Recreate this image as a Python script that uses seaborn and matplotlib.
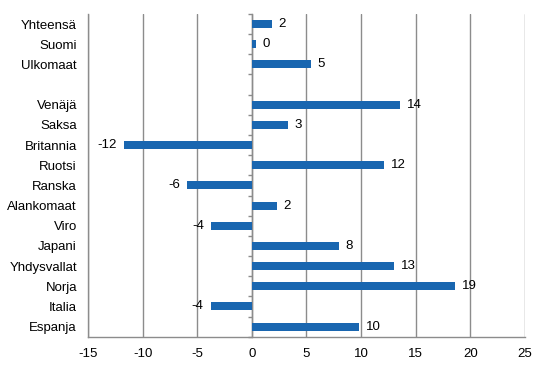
import numpy as np
import pandas as pd
import matplotlib
matplotlib.use('Agg')
import matplotlib.pyplot as plt
import seaborn as sns

# Data (top to bottom); the blank row is a spacer
maat = ['Yhteensä', 'Suomi', 'Ulkomaat', '', 'Venäjä', 'Saksa', 'Britannia',
        'Ruotsi', 'Ranska', 'Alankomaat', 'Viro', 'Japani', 'Yhdysvallat',
        'Norja', 'Italia', 'Espanja']
muutos = [1.8, 0.34, 5.4, np.nan, 13.6, 3.3, -11.75, 12.06, -5.9, 2.26,
          -3.7, 7.95, 12.97, 18.56, -3.78, 9.77]
x_ticks = [-15, -10, -5, 0, 5, 10, 15, 20, 25]

df = pd.DataFrame({'maa': maat, 'muutos': muutos})

sns.set_style('white')
plt.rcParams['font.family'] = ['Liberation Sans', 'DejaVu Sans']
plt.rcParams['text.color'] = 'black'
plt.rcParams['xtick.labelcolor'] = 'black'
plt.rcParams['ytick.labelcolor'] = 'black'

fig = plt.figure(figsize=(5.46, 3.76), dpi=100)
ax = fig.add_axes([0.1612, 0.1045, 0.8003, 0.8583])

grey = '#8c8c8c'
blue = '#1966B0'

sns.barplot(data=df.dropna(), x='muutos', y='maa', order=maat, color=blue,
            saturation=1, width=0.4, orient='h', ax=ax, zorder=3,
            linewidth=0)

for c in ax.containers:
    ax.bar_label(c, fmt='%.0f', padding=5, fontsize=9.5, color='black')

ax.set_xlim(-15, 25)
ax.set_ylim(len(maat) - 0.5, -0.5)
ax.set_xticks(x_ticks)
ax.set_xticklabels([str(t) for t in x_ticks], fontsize=9.5)
ax.tick_params(axis='y', length=0, labelsize=9.5, pad=8)
ax.tick_params(axis='x', length=0, pad=8)
ax.set_xlabel('')
ax.set_ylabel('')

# vertical gridlines
ax.grid(axis='x', color=grey, linewidth=1, zorder=0)
ax.grid(axis='y', visible=False)
for s in ['top', 'right']:
    ax.spines[s].set_visible(False)
for s in ['left', 'bottom']:
    ax.spines[s].set_color(grey)
    ax.spines[s].set_linewidth(1)

# zero axis with tick marks between categories
sec = ax.secondary_yaxis(15 / 40)
sec.set_yticks(np.arange(-0.5, len(maat), 1))
sec.set_yticklabels([])
sec.tick_params(axis='y', left=True, right=False, length=3, color=grey,
                width=1, direction='out')
sec.spines['left'].set_color(grey)
sec.spines['left'].set_linewidth(1)
sec.spines['left'].set_zorder(5)

fig.savefig('out.png', dpi=100)
